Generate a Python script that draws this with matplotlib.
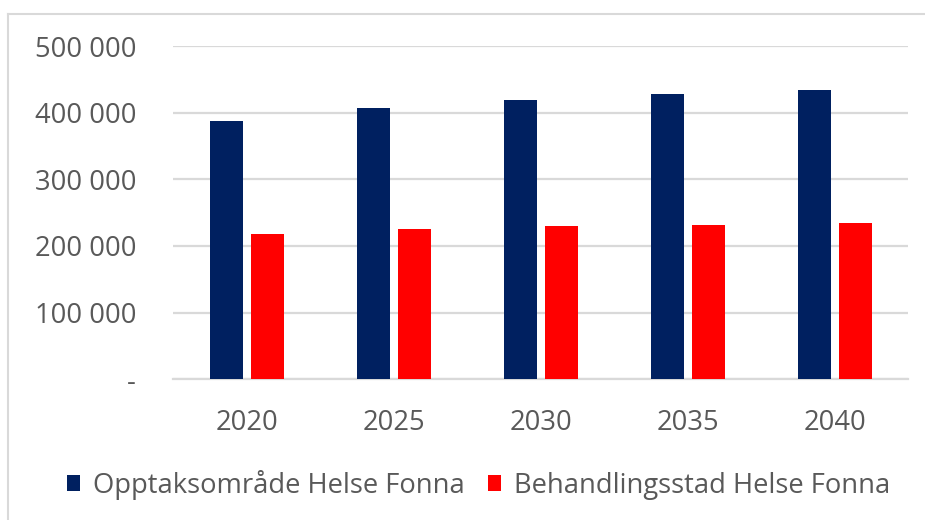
import matplotlib
matplotlib.use("Agg")
import matplotlib.pyplot as plt
import numpy as np
from matplotlib.lines import Line2D

years = ["2020", "2025", "2030", "2035", "2040"]
opptak = [387500, 407000, 419000, 428000, 434000]
behandling = [218000, 225000, 229500, 232000, 234500]
series_names = ["Opptaksområde Helse Fonna", "Behandlingsstad Helse Fonna"]
yticks = [0, 100000, 200000, 300000, 400000, 500000]
ytick_labels = ["-", "100 000", "200 000", "300 000", "400 000", "500 000"]

navy = "#002060"
red = "#FF0000"
grid = "#D9D9D9"
txt = "#595959"
font = "Open Sans"
fs = 19.7

fig = plt.figure(figsize=(9.25, 5.20), dpi=100)
ax = fig.add_axes([173/925, 1 - 379.3/520, (908-173)/925, (379.3-46)/520])

x = np.arange(len(years))
w = 0.224
off = 0.14
ax.bar(x - off, opptak, width=w, color=navy, zorder=3, label=series_names[0])
ax.bar(x + off, behandling, width=w, color=red, zorder=3, label=series_names[1])

ax.set_xlim(-0.503, 4.497)
ax.set_ylim(0, 500000)
ax.set_yticks(yticks)
ax.set_yticklabels(ytick_labels)
ax.set_xticks(x)
ax.set_xticklabels(years)
ax.yaxis.grid(True, color=grid, linewidth=1.6, zorder=0)
ax.set_axisbelow(True)
for s in ["top", "right", "left"]:
    ax.spines[s].set_visible(False)
ax.spines["bottom"].set_color(grid)
ax.spines["bottom"].set_linewidth(1.6)
ax.tick_params(axis="both", length=0, colors=txt, labelsize=fs)
ax.tick_params(axis="y", pad=26.5)
ax.tick_params(axis="x", pad=21.5)
for lab in ax.get_xticklabels() + ax.get_yticklabels():
    lab.set_fontfamily(font)
    lab.set_color(txt)

# chart border (left and top)
fig.add_artist(Line2D([7.5/925, 7.5/925], [0, 1 - 13.5/520], color=grid, linewidth=1.5, transform=fig.transFigure))
fig.add_artist(Line2D([7.5/925, 1], [1 - 13.5/520, 1 - 13.5/520], color=grid, linewidth=1.5, transform=fig.transFigure))

leg = fig.legend(loc="center", bbox_to_anchor=(0.517, 1 - 485/520), ncol=2, frameon=False,
                 prop={"family": font, "size": fs}, handlelength=0.5, handleheight=0.5,
                 handletextpad=0.45, columnspacing=0.85, borderpad=0)
for t in leg.get_texts():
    t.set_color(txt)

fig.savefig("out.png", dpi=100)
